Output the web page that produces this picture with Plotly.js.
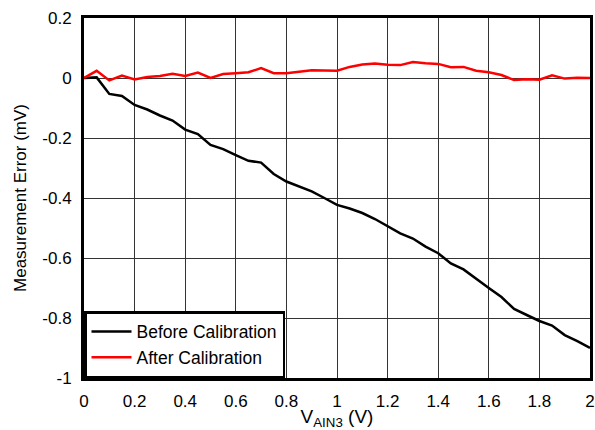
<!DOCTYPE html>
<html><head><meta charset="utf-8">
<script src="https://cdn.plot.ly/plotly-3.0.1.min.js"></script>
<style>html,body{margin:0;padding:0;background:#fff}#c{width:595px;height:430px}</style>
</head><body><div id="c"></div>
<script>
const xValues = [0,0.05,0.1,0.15,0.2,0.25,0.3,0.35,0.4,0.45,0.5,0.55,0.6,0.65,0.7,0.75,0.8,0.85,0.9,0.95,1.0,1.05,1.1,1.15,1.2,1.25,1.3,1.35,1.4,1.45,1.5,1.55,1.6,1.65,1.7,1.75,1.8,1.85,1.9,1.95,2.0];
const beforeCal = [0,0.002,-0.053,-0.06,-0.09,-0.105,-0.125,-0.142,-0.172,-0.187,-0.223,-0.237,-0.257,-0.276,-0.282,-0.32,-0.345,-0.362,-0.378,-0.4,-0.423,-0.435,-0.45,-0.47,-0.495,-0.518,-0.535,-0.562,-0.584,-0.618,-0.638,-0.67,-0.7,-0.73,-0.77,-0.79,-0.81,-0.825,-0.857,-0.877,-0.9];
const afterCal = [0,0.024,-0.008,0.008,-0.005,0.003,0.007,0.014,0.007,0.018,0,0.013,0.016,0.019,0.033,0.016,0.016,0.021,0.026,0.025,0.024,0.037,0.045,0.048,0.044,0.043,0.053,0.049,0.047,0.036,0.037,0.024,0.019,0.01,-0.007,-0.004,-0.006,0.009,-0.002,0.001,0];
const xTickVals = [0,0.2,0.4,0.6,0.8,1,1.2,1.4,1.6,1.8,2];
const xTickText = ["0","0.2","0.4","0.6","0.8","1","1.2","1.4","1.6","1.8","2"];
const yTickVals = [0.2,0,-0.2,-0.4,-0.6,-0.8,-1];
const yTickText = ["0.2","0","-0.2","-0.4","-0.6","-0.8","-1"];

const font = "Liberation Sans, Arial, Helvetica, sans-serif";
const traces = [
  {x:xValues, y:beforeCal, type:'scatter', mode:'lines', name:'Before Calibration', line:{color:'#000000', width:2.5}},
  {x:xValues, y:afterCal, type:'scatter', mode:'lines', name:'After Calibration', line:{color:'#ff0000', width:2.5}}
];
const layout = {
  width:595, height:430,
  margin:{l:84, r:5, t:18, b:52},
  paper_bgcolor:'#ffffff', plot_bgcolor:'#ffffff',
  font:{family:font, size:17, color:'#000'},
  showlegend:true,
  legend:{x:0, y:0, xanchor:'left', yanchor:'bottom', bgcolor:'#ffffff', bordercolor:'#000', borderwidth:2.5,
    font:{family:font, size:17.5, color:'#000'}, tracegroupgap:0, itemwidth:40, entrywidth:214, entrywidthmode:'pixels'},
  xaxis:{range:[0,2], tickvals:xTickVals, ticktext:xTickText, showgrid:true, gridcolor:'#333', gridwidth:1, zeroline:false, showline:true, mirror:true, linecolor:'#000', linewidth:3, ticks:'outside', ticklen:6, tickcolor:'rgba(0,0,0,0)',
    title:{text:'V<sub>AIN3</sub> (V)', font:{family:font, size:19}, standoff:11}, tickfont:{family:font, size:17}},
  yaxis:{range:[-1,0.2], tickvals:yTickVals, ticktext:yTickText, showgrid:true, gridcolor:'#333', gridwidth:1, zeroline:false, showline:true, mirror:true, linecolor:'#000', linewidth:3, ticks:'outside', ticklen:6, tickcolor:'rgba(0,0,0,0)',
    title:{text:'Measurement Error (mV)', font:{family:font, size:17}, standoff:12}, tickfont:{family:font, size:17}}
};
Plotly.newPlot('c', traces, layout, {displayModeBar:false, staticPlot:true});
</script></body></html>
